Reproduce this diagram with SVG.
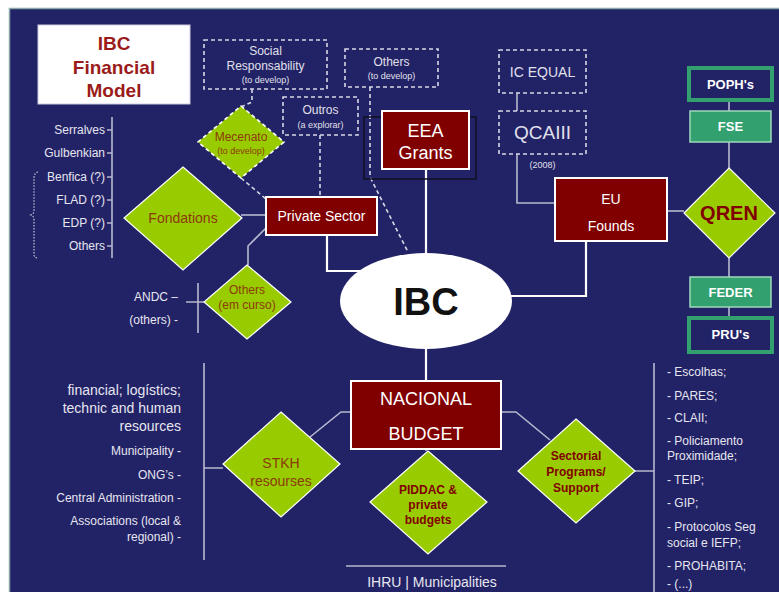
<svg xmlns="http://www.w3.org/2000/svg" width="779" height="592" viewBox="0 0 779 592">
  <style>
    text { font-family: "Liberation Sans", Arial, sans-serif; }
    .lt { fill: #e6e6f0; font-size: 12px; }
    .big { fill: #e6e6f0; font-size: 14px; }
    .dash { fill: none; stroke: #d8d8e8; stroke-width: 1.6; stroke-dasharray: 4 3; }
    .dtext { fill: #e0e0ec; text-anchor: middle; }
    .red { fill: #800000; stroke: #ffffff; stroke-width: 2; }
    .rtext { fill: #ffffff; text-anchor: middle; }
    .dia { fill: #99cc00; stroke: #ffffff; stroke-width: 1.2; }
    .dtxt { fill: #8b3a0a; text-anchor: middle; }
    .btxt { fill: #800000; text-anchor: middle; font-weight: bold; }
    .gbox { fill: #222266; stroke: #33a070; stroke-width: 4; }
    .gfill { fill: #33a070; stroke: #9fd8bb; stroke-width: 1.5; }
    .gtext { fill: #ffffff; text-anchor: middle; font-weight: bold; font-size: 13px; }
    .ln { fill: none; stroke: #ffffff; stroke-width: 2.2; }
    .thin { fill: none; stroke: #b8b8d0; stroke-width: 1.6; }
  </style>

  <!-- page background -->
  <rect x="0" y="0" width="779" height="592" fill="#ffffff"/>
  <rect x="9.5" y="8.5" width="772" height="590" fill="#222266" stroke="#8aa8a8" stroke-width="1.5"/>

  <!-- connectors -->
  <g id="connectors">
    <path class="dash" d="M252 89 V102 L241 107"/>
    <path class="dash" d="M241 178 L266 199"/>
    <path class="dash" d="M320 135 V197"/>
    <path class="dash" d="M370 87 V177 L408 252"/>
    <path class="ln" d="M426 169 V254"/>
    <path class="ln" d="M327 235 V271 H360"/>
    <path class="thin" d="M241 215 H266"/>
    <path class="thin" d="M266 228 L248 246 V265"/>
    <path class="ln" d="M586 241 V296 H511"/>
    <path class="thin" d="M517 93 V111"/>
    <path class="thin" d="M517 154 V203 H555"/>
    <path class="thin" d="M667 211 H684"/>
    <path class="thin" d="M729 101 V111 M729 142 V168 M729 258 V277 M729 307 V317"/>
    <path class="ln" d="M426 349 V381"/>
    <path class="thin" d="M426 440 V451"/>
    <path class="thin" d="M310 437 L341 412 H351"/>
    <path class="thin" d="M501 412 H516 L550 440"/>
    <path class="thin" d="M635 471 H654 M654 363 V592"/>
    <path class="thin" d="M204 363 V560 M204 468 H223"/>
    <path class="thin" d="M198 283 V333 M186 302 H204"/>
    <path class="thin" d="M112 117 V258 M107 130 H112 M107 153 H112 M107 177 H112 M107 200 H112 M107 223 H112 M107 246 H112"/>
    <path class="thin" d="M346 566 H506"/>
    <path fill="none" stroke="#c8c8dc" stroke-width="1.2" stroke-dasharray="1.5 1.5" d="M38 172 Q34 173 34 178 V210 Q34 214 31 215 Q34 216 34 220 V254 Q34 258 38 258"/>
  </g>

  <!-- title -->
  <g id="title">
    <rect x="38" y="25" width="152" height="79" fill="#ffffff" stroke="#ccccdd" stroke-width="1"/>
    <text x="114" y="50" text-anchor="middle" font-size="19" font-weight="bold" fill="#9b1b1b">IBC</text>
    <text x="114" y="74" text-anchor="middle" font-size="19" font-weight="bold" fill="#9b1b1b">Financial</text>
    <text x="114" y="97" text-anchor="middle" font-size="19" font-weight="bold" fill="#9b1b1b">Model</text>
  </g>

  <!-- dashed boxes -->
  <g id="social">
    <rect class="dash" x="204" y="40" width="123" height="49"/>
    <text class="dtext" x="265.5" y="55" font-size="12">Social</text>
    <text class="dtext" x="265.5" y="70" font-size="12">Responsability</text>
    <text class="dtext" x="265.5" y="83" font-size="9">(to develop)</text>
  </g>
  <g id="others-top">
    <rect class="dash" x="345" y="49" width="93" height="38"/>
    <text class="dtext" x="391.5" y="66" font-size="12">Others</text>
    <text class="dtext" x="391.5" y="79" font-size="9">(to develop)</text>
  </g>
  <g id="outros">
    <rect class="dash" x="283" y="97" width="75" height="38"/>
    <text class="dtext" x="320.5" y="114" font-size="12">Outros</text>
    <text class="dtext" x="320.5" y="128" font-size="9">(a explorar)</text>
  </g>
  <g id="icequal">
    <rect class="dash" x="499" y="50" width="87" height="43"/>
    <text class="dtext" x="542.5" y="77" font-size="14">IC EQUAL</text>
  </g>
  <g id="qcaiii">
    <rect class="dash" x="499" y="111" width="87" height="43"/>
    <text class="dtext" x="542.5" y="139" font-size="19">QCAIII</text>
    <text class="dtext" x="542.5" y="168" font-size="9">(2008)</text>
  </g>

  <!-- dark red boxes -->
  <g id="eea">
    <rect x="364" y="117" width="112" height="62" fill="none" stroke="#111122" stroke-width="1.5"/>
    <rect class="red" x="382" y="111" width="87" height="58"/>
    <text class="rtext" x="425.5" y="137" font-size="18">EEA</text>
    <text class="rtext" x="425.5" y="159" font-size="18">Grants</text>
  </g>
  <g id="private">
    <rect class="red" x="266" y="197" width="111" height="38"/>
    <text class="rtext" x="321.5" y="221" font-size="14">Private Sector</text>
  </g>
  <g id="eu">
    <rect class="red" x="555" y="178" width="112" height="63"/>
    <text class="rtext" x="611" y="204" font-size="14">EU</text>
    <text class="rtext" x="611" y="231" font-size="14">Founds</text>
  </g>
  <g id="nacional">
    <rect class="red" x="351" y="381" width="150" height="68"/>
    <text class="rtext" x="426" y="405" font-size="18">NACIONAL</text>
    <text class="rtext" x="426" y="440" font-size="18">BUDGET</text>
  </g>

  <!-- IBC -->
  <g id="ibc">
    <ellipse cx="426" cy="301" rx="86" ry="48" fill="#ffffff"/>
    <text x="426" y="315" text-anchor="middle" font-size="38" font-weight="bold" fill="#111111">IBC</text>
  </g>

  <!-- diamonds -->
  <g id="mecenato">
    <polygon points="241,106 284,142 241,178 198,142" fill="#99cc00" stroke="#ffffff" stroke-width="1.6" stroke-dasharray="4 3"/>
    <text class="dtxt" x="241" y="141" font-size="12">Mecenato</text>
    <text class="dtxt" x="241" y="154" font-size="9">(to develop)</text>
  </g>
  <g id="fondations">
    <polygon class="dia" points="183,167 242,218 183,270 124,218"/>
    <text class="dtxt" x="183" y="223" font-size="14">Fondations</text>
  </g>
  <g id="others-curso">
    <polygon class="dia" points="247,265 291,302 247,339 204,302"/>
    <text class="dtxt" x="247" y="294" font-size="12">Others</text>
    <text class="dtxt" x="247" y="309" font-size="12">(em curso)</text>
  </g>
  <g id="qren">
    <polygon class="dia" points="729,168 775,213 729,258 684,213"/>
    <text class="btxt" x="729" y="220" font-size="20">QREN</text>
  </g>
  <g id="stkh">
    <polygon class="dia" points="281,412 340,464 281,517 223,464"/>
    <text class="dtxt" x="281" y="468" font-size="14">STKH</text>
    <text class="dtxt" x="281" y="486" font-size="14">resourses</text>
  </g>
  <g id="piddac">
    <polygon class="dia" points="428,451 487,502 428,554 370,502"/>
    <text class="btxt" x="428" y="494" font-size="12">PIDDAC &amp;</text>
    <text class="btxt" x="428" y="509" font-size="12">private</text>
    <text class="btxt" x="428" y="524" font-size="12">budgets</text>
  </g>
  <g id="sectorial">
    <polygon class="dia" points="576,419 635,471 576,523 518,471"/>
    <text class="btxt" x="576" y="460" font-size="12">Sectorial</text>
    <text class="btxt" x="576" y="476" font-size="12">Programs/</text>
    <text class="btxt" x="576" y="492" font-size="12">Support</text>
  </g>

  <!-- green boxes -->
  <g id="poph">
    <rect class="gbox" x="689" y="68" width="83" height="32"/>
    <text class="gtext" x="730.5" y="89">POPH's</text>
  </g>
  <g id="fse">
    <rect class="gfill" x="690" y="111" width="81" height="31"/>
    <text class="gtext" x="730.5" y="131">FSE</text>
  </g>
  <g id="feder">
    <rect class="gfill" x="690" y="277" width="81" height="30"/>
    <text class="gtext" x="730.5" y="297">FEDER</text>
  </g>
  <g id="prus">
    <rect class="gbox" x="689" y="318" width="83" height="34"/>
    <text class="gtext" x="730.5" y="339">PRU's</text>
  </g>

  <!-- side lists -->
  <g id="foundations-list" text-anchor="end">
    <text class="lt" x="105" y="134">Serralves</text>
    <text class="lt" x="105" y="157">Gulbenkian</text>
    <text class="lt" x="105" y="181">Benfica (?)</text>
    <text class="lt" x="105" y="204">FLAD (?)</text>
    <text class="lt" x="105" y="227">EDP (?)</text>
    <text class="lt" x="105" y="250">Others</text>
  </g>
  <g id="curso-list" text-anchor="end">
    <text class="lt" x="178" y="301">ANDC –</text>
    <text class="lt" x="178" y="324">(others) -</text>
  </g>
  <g id="stkh-list" text-anchor="end">
    <text class="big" x="181" y="395">financial; logístics;</text>
    <text class="big" x="181" y="413">technic and human</text>
    <text class="big" x="181" y="431">resources</text>
    <text class="lt" x="181" y="455">Municipality -</text>
    <text class="lt" x="181" y="479">ONG’s -</text>
    <text class="lt" x="181" y="502">Central Administration -</text>
    <text class="lt" x="181" y="525">Associations  (local &amp;</text>
    <text class="lt" x="181" y="541">regional) -</text>
  </g>
  <g id="ihru">
    <text class="big" x="432" y="587" text-anchor="middle">IHRU | Municipalities</text>
  </g>
  <g id="programs-list">
    <text class="lt" x="667" y="376">- Escolhas;</text>
    <text class="lt" x="667" y="400">- PARES;</text>
    <text class="lt" x="667" y="422">- CLAII;</text>
    <text class="lt" x="667" y="445">- Policiamento</text>
    <text class="lt" x="667" y="460">Proximidade;</text>
    <text class="lt" x="667" y="484">- TEIP;</text>
    <text class="lt" x="667" y="507">- GIP;</text>
    <text class="lt" x="667" y="531">- Protocolos Seg</text>
    <text class="lt" x="667" y="547">social e IEFP;</text>
    <text class="lt" x="667" y="570">- PROHABITA;</text>
    <text class="lt" x="667" y="588">- (...)</text>
  </g>
</svg>
